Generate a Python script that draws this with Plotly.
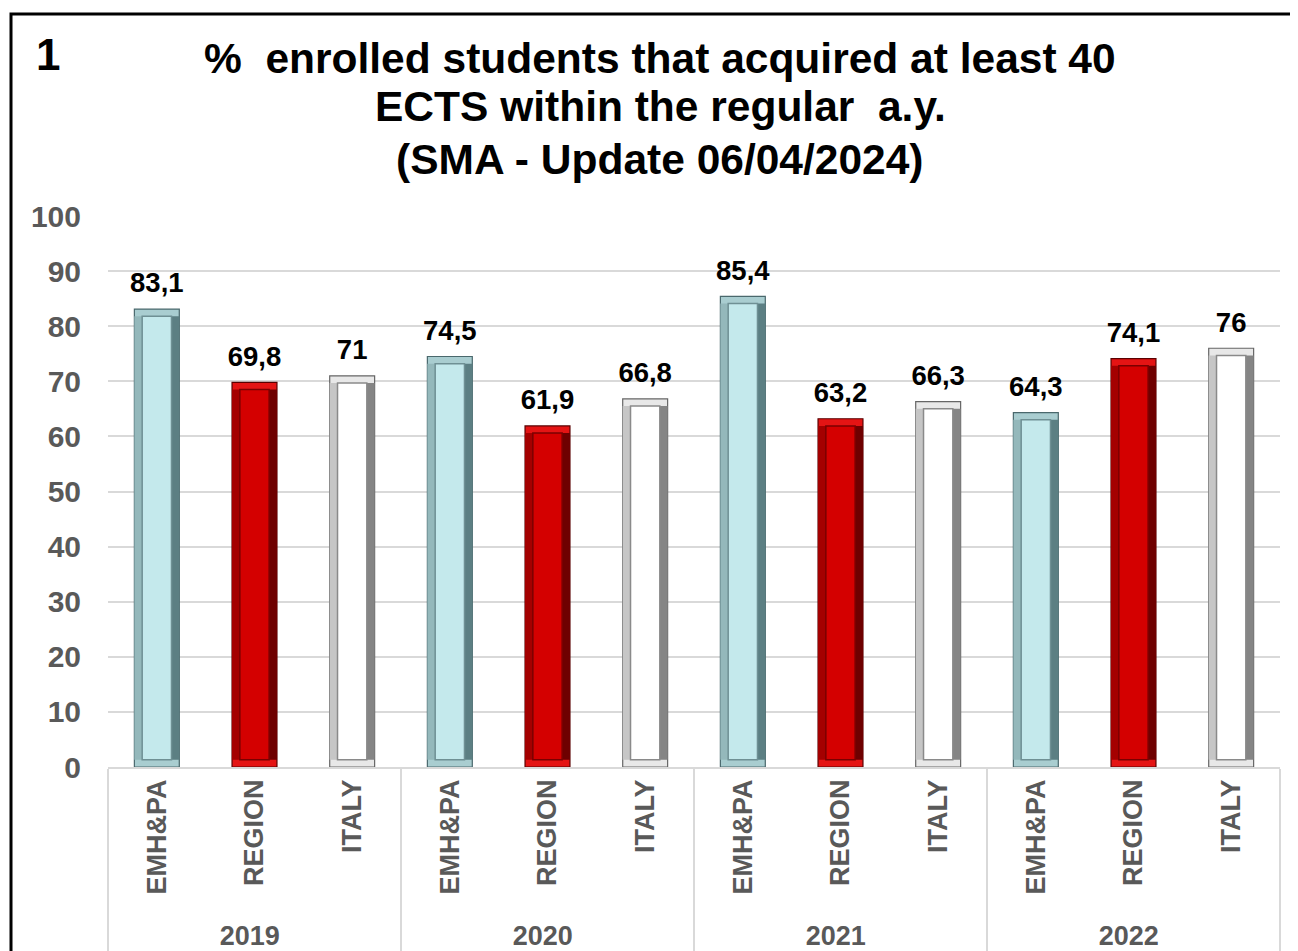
import plotly.graph_objects as go

years = ["2019", "2020", "2021", "2022"]
groups = ["EMH&PA", "REGION", "ITALY"]
emhpa = [83.1, 74.5, 85.4, 64.3]
region = [69.8, 61.9, 63.2, 74.1]
italy = [71, 66.8, 66.3, 76]

series = {"EMH&PA": emhpa, "REGION": region, "ITALY": italy}
styles = {
    "EMH&PA": dict(top="#a9cdd0", left="#94b8bb", right="#5c7f83",
                   edge="#4a686c", face="#c4e9ec", facel="#6f9094"),
    "REGION": dict(top="#e41414", left="#a40000", right="#6e0000",
                   edge="#5a0000", face="#d40000", facel="#7a0000"),
    "ITALY": dict(top="#e8e8e8", left="#c6c6c6", right="#858585",
                  edge="#666666", face="#ffffff", facel="#8a8a8a"),
}

FONT = "Liberation Sans, Arial, sans-serif"
GRAY = "#595959"
OFF = 8  # page body margin
FIG_W, FIG_H = 1298 - OFF, 951 - OFF
PX_TOP, PX_BOT, PX_L, PX_R = 216 - OFF, 767 - OFF, 108 - OFF, 1280 - OFF
H = PX_BOT - PX_TOP
W = PX_R - PX_L


def py(p):
    return (PX_BOT - (p - OFF)) / H


def px(p):
    return ((p - OFF) - PX_L) / W


fig = go.Figure()
inset = 1.3
BW, FW = 0.46, 0.30
SW = (BW - FW) / 2
for g in groups:
    vals = series[g]
    st = styles[g]
    xcat = [years, [g] * len(years)]
    fig.add_trace(go.Bar(
        x=xcat, y=vals, width=BW,
        marker=dict(color=st["top"], line=dict(color=st["edge"], width=1.2)),
        hoverinfo="skip", showlegend=False,
    ))
    fig.add_trace(go.Bar(
        x=xcat, y=[v - 2 * inset for v in vals], base=inset, width=SW,
        offset=-BW / 2,
        marker=dict(color=st["left"], line=dict(width=0)),
        hoverinfo="skip", showlegend=False,
    ))
    fig.add_trace(go.Bar(
        x=xcat, y=[v - 2 * inset for v in vals], base=inset, width=SW,
        offset=FW / 2,
        marker=dict(color=st["right"], line=dict(width=0)),
        hoverinfo="skip", showlegend=False,
    ))
    fig.add_trace(go.Bar(
        x=xcat, y=[v - 2 * inset for v in vals], base=inset, width=FW,
        marker=dict(color=st["face"], line=dict(color=st["facel"], width=1.5)),
        hoverinfo="skip", showlegend=False,
    ))

for g in groups:
    vals = series[g]
    fig.add_trace(go.Scatter(
        x=[years, [g] * len(years)], y=vals,
        mode="markers+text",
        marker=dict(size=14, opacity=0),
        text=[f"{v:g}".replace(".", ",") for v in vals],
        textposition="top center",
        textfont=dict(family=FONT, size=27.5, color="#000000", weight="bold"),
        cliponaxis=False, hoverinfo="skip", showlegend=False,
    ))

title_lines = [
    "%  enrolled students that acquired at least 40",
    "ECTS within the regular  a.y.",
    "(SMA - Update 06/04/2024)",
]
title_px = [58, 107, 159]
annotations = []
for t, p in zip(title_lines, title_px):
    annotations.append(dict(
        text=t, xref="paper", yref="paper", x=px(660), y=py(p),
        xanchor="center", yanchor="middle", showarrow=False,
        font=dict(family=FONT, size=42.5, color="#000000", weight="bold"),
    ))
annotations.append(dict(
    text="1", xref="paper", yref="paper", x=px(48), y=py(54),
    xanchor="center", yanchor="middle", showarrow=False,
    font=dict(family=FONT, size=44, color="#000000", weight="bold"),
))

fig.update_layout(
    width=FIG_W, height=FIG_H,
    margin=dict(l=PX_L, r=FIG_W - PX_R, t=PX_TOP, b=FIG_H - PX_BOT,
                autoexpand=False),
    paper_bgcolor="white", plot_bgcolor="white",
    barmode="overlay",
    annotations=annotations,
    shapes=[dict(type="rect", xref="paper", yref="paper",
                 x0=px(11), x1=1.2, y0=-0.6, y1=py(14),
                 line=dict(color="black", width=3), layer="above")],
    xaxis=dict(
        type="multicategory",
        range=[-0.5, 11.5],
        automargin=False,
        tickangle=-90,
        tickfont=dict(family=FONT, size=27, color=GRAY, weight="bold"),
        showdividers=True, dividercolor="#d9d9d9", dividerwidth=1.5,
        showline=True, linecolor="#d9d9d9", linewidth=1.5,
        ticks="", showgrid=False,
    ),
    yaxis=dict(
        range=[0, 100], dtick=10,
        automargin=False,
        tickfont=dict(family=FONT, size=30, color=GRAY, weight="bold"),
        showgrid=True, gridcolor="#d9d9d9", gridwidth=1.5,
        zeroline=False, ticks="", ticklabelstandoff=26,
        showline=False,
    ),
)

fig.write_html("out.html")
